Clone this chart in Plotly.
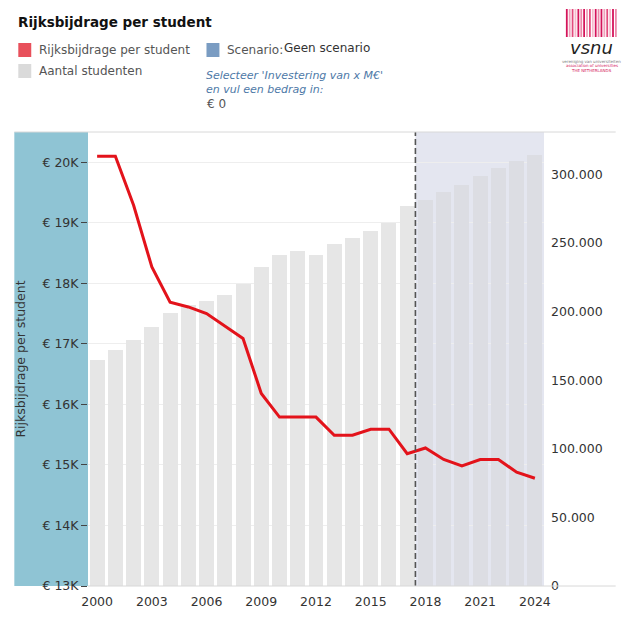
import plotly.graph_objects as go

# Data
years = list(range(2000, 2025))
students = [165000, 172000, 179000, 189000, 199000, 205000, 208000, 212000, 220000,
            232500, 241500, 244500, 241000, 249000, 254000, 259000, 265000, 277000,
            281500, 287500, 292500, 299000, 304500, 310000, 314000]
per_student = [20100, 20100, 19290, 18270, 17690, 17610, 17500, 17300, 17090,
               16180, 15790, 15790, 15790, 15490, 15490, 15590, 15590, 15185,
               15280, 15090, 14985, 15090, 15090, 14880, 14780]
left_ticks = [13000, 14000, 15000, 16000, 17000, 18000, 19000, 20000]
left_labels = ["€ 13K", "€ 14K", "€ 15K", "€ 16K", "€ 17K", "€ 18K", "€ 19K", "€ 20K"]
right_ticks = [0, 50000, 100000, 150000, 200000, 250000, 300000]
year_ticks = [2000, 2003, 2006, 2009, 2012, 2015, 2018, 2021, 2024]
scenario_start = 2017.45

FONT = "DejaVu Sans"
bar_colors = ["#dcdde3" if y >= 2018 else "#e6e6e6" for y in years]

# page body has an 8px margin, so work in reference pixels and subtract it
OFF = 8
W, H = 458, 454          # plot area size in pixels


def px(x):
    return (x - 86) / W


def py(y):
    return (586 - y) / H


fig = go.Figure()

# students on the base axis (right side), line on the overlaying axis so it sits on top
fig.add_trace(go.Bar(
    x=years, y=students, yaxis="y", width=0.82,
    marker=dict(color=bar_colors, line=dict(width=0)),
    hoverinfo="skip", showlegend=False,
))
fig.add_trace(go.Scatter(
    x=years, y=per_student, yaxis="y2", mode="lines",
    line=dict(color="#e3131b", width=3),
    showlegend=False,
))

# scenario shading + dashed divider
fig.add_shape(type="rect", xref="x", yref="paper", x0=scenario_start, x1=2024.5,
              y0=0, y1=1, fillcolor="#e4e6f0", line_width=0, layer="below")
fig.add_shape(type="line", xref="x", yref="paper", x0=scenario_start, x1=scenario_start,
              y0=0, y1=1, line=dict(color="#555555", width=1.6, dash="6px,3px"))

# blue panel behind the left axis
fig.add_shape(type="rect", xref="paper", yref="paper", x0=px(12), x1=0, y0=0, y1=1,
              fillcolor="#8fc4d4", line_width=0, layer="below")
# top border and bottom axis line
fig.add_shape(type="line", xref="paper", yref="paper", x0=px(12), x1=px(616), y0=1, y1=1,
              line=dict(color="#d8d8d8", width=1))
fig.add_shape(type="line", xref="paper", yref="paper", x0=0, x1=px(616), y0=0, y1=0,
              line=dict(color="#d8d8d8", width=1))

# header: title and legend
fig.add_annotation(text="<b>Rijksbijdrage per student</b>", xref="paper", yref="paper",
                   x=px(14), y=py(22), xanchor="left", yanchor="middle", showarrow=False,
                   font=dict(family=FONT, size=13.5, color="#111111"))

legend_items = [
    (16, 50, "#e8505b", "Rijksbijdrage per student"),
    (16, 71, "#dadada", "Aantal studenten"),
    (205, 50, "#7a9cc2", "Scenario:"),
]
for lx, ly, col, txt in legend_items:
    fig.add_shape(type="rect", xref="paper", yref="paper",
                  x0=px(lx), x1=px(lx + 13), y0=py(ly + 7), y1=py(ly - 7),
                  fillcolor=col, line_width=0)
    fig.add_annotation(text=txt, xref="paper", yref="paper", x=px(lx + 19), y=py(ly),
                       xanchor="left", yanchor="middle", showarrow=False,
                       font=dict(family=FONT, size=12, color="#555555"))

fig.add_annotation(text="Geen scenario", xref="paper", yref="paper", x=px(281), y=py(48),
                   xanchor="left", yanchor="middle", showarrow=False,
                   font=dict(family=FONT, size=12, color="#333333"))
fig.add_annotation(text="<i>Selecteer 'Investering van x M€'<br>en vul een bedrag in:</i>",
                   xref="paper", yref="paper", x=px(203), y=py(83),
                   xanchor="left", yanchor="middle", align="left", showarrow=False,
                   font=dict(family=FONT, size=11, color="#4e79a7"))
fig.add_annotation(text="€ 0", xref="paper", yref="paper", x=px(204), y=py(104),
                   xanchor="left", yanchor="middle", showarrow=False,
                   font=dict(family=FONT, size=12, color="#555555"))

# vsnu logo
stripe_cols = ["#d4145a", "#f0a3bd", "#e34b7d", "#f5bccd", "#d4145a", "#ec8aab"]
for i in range(18):
    sx = 566 + i * 2.9
    fig.add_shape(type="rect", xref="paper", yref="paper",
                  x0=px(sx), x1=px(sx + 1.8), y0=py(37), y1=py(9),
                  fillcolor=stripe_cols[i % len(stripe_cols)], line_width=0)
fig.add_annotation(text="<i>vsnu</i>", xref="paper", yref="paper", x=px(592), y=py(47),
                   xanchor="center", yanchor="middle", showarrow=False,
                   font=dict(family=FONT, size=18, color="#222222"))
logo_lines = [(61, "vereniging van universiteiten", "#777777"),
              (66, "association of universities", "#d4145a"),
              (71, "THE NETHERLANDS", "#d4145a")]
for ly, txt, col in logo_lines:
    fig.add_annotation(text=txt, xref="paper", yref="paper", x=px(592), y=py(ly),
                       xanchor="center", yanchor="middle", showarrow=False,
                       font=dict(family=FONT, size=4, color=col))

fig.update_layout(
    width=640, height=630,
    margin=dict(l=86 - OFF, r=640 - 544 + OFF, t=132 - OFF, b=630 - 586 + OFF),
    paper_bgcolor="white", plot_bgcolor="rgba(0,0,0,0)",
    font=dict(family=FONT, size=12, color="#333333"),
    separators=",.",
    bargap=0,
    xaxis=dict(range=[1999.5, 2024.5], tickvals=year_ticks, showgrid=False,
               zeroline=False, showline=False, ticks="", ticklabelstandoff=6,
               tickfont=dict(size=12.5, color="#333333")),
    yaxis=dict(range=[0, 331000], tickvals=right_ticks, tickformat=",d",
               side="right", showgrid=False, zeroline=False,
               showline=False, ticks="", ticklabelstandoff=6,
               tickfont=dict(size=12.5, color="#333333")),
    yaxis2=dict(range=[13000, 20500], tickvals=left_ticks, ticktext=left_labels,
                overlaying="y", side="left",
                showgrid=True, gridcolor="#eeeeee", zeroline=False, showline=False,
                ticks="outside", ticklen=6, tickcolor="#444444",
                tickfont=dict(size=12.5, color="#333333"),
                title=dict(text="Rijksbijdrage per student", standoff=14,
                           font=dict(size=12.5, color="#333333"))),
)

fig.write_html("out.html")
